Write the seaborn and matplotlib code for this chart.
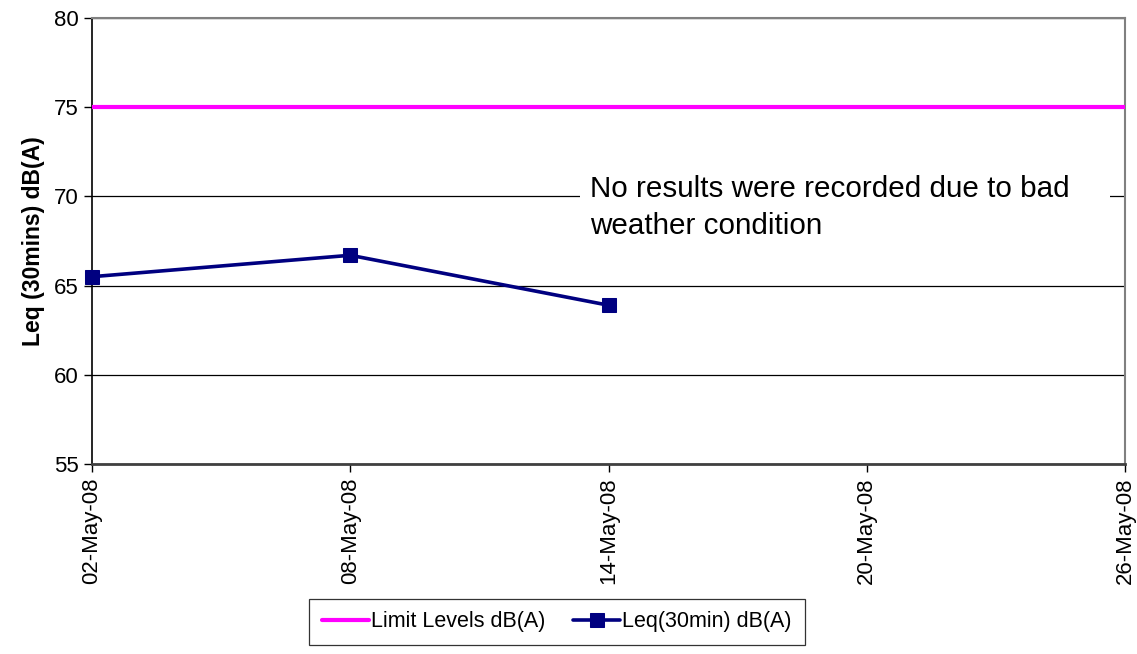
import pandas as pd
import matplotlib
matplotlib.use("Agg")
import matplotlib.pyplot as plt
import matplotlib.dates as mdates
from matplotlib.patches import Rectangle
import seaborn as sns

# data
dates = ["2008-05-02", "2008-05-08", "2008-05-14"]
leq_values = [65.5, 66.7, 63.9]
limit_dates = ["2008-05-02", "2008-05-26"]
limit_values = [75, 75]
tick_dates = ["2008-05-02", "2008-05-08", "2008-05-14", "2008-05-20", "2008-05-26"]

leq = pd.DataFrame({"date": pd.to_datetime(dates), "value": leq_values})
limit = pd.DataFrame({"date": pd.to_datetime(limit_dates), "value": limit_values})

sns.set_style("white")
plt.rcParams["font.family"] = ["Liberation Sans", "DejaVu Sans"]
plt.rcParams["text.color"] = "black"
plt.rcParams["axes.labelcolor"] = "black"
plt.rcParams["xtick.color"] = "black"
plt.rcParams["ytick.color"] = "black"

fig, ax = plt.subplots(figsize=(11.37, 6.54), dpi=100)
fig.subplots_adjust(left=0.081, right=0.9894, top=0.9725, bottom=0.2905)

sns.lineplot(data=limit, x="date", y="value", ax=ax, color="#FF00FF", linewidth=3,
             label="Limit Levels dB(A)", zorder=4)
sns.lineplot(data=leq, x="date", y="value", ax=ax, color="#000080", linewidth=2.6,
             marker="s", markersize=10, markeredgecolor="#000080",
             label="Leq(30min) dB(A)", clip_on=False, zorder=5)

ax.set_ylim(55, 80)
ax.set_yticks([55, 60, 65, 70, 75, 80])
ax.set_xlim(pd.Timestamp("2008-05-02"), pd.Timestamp("2008-05-26"))
ax.set_xticks(pd.to_datetime(tick_dates))
ax.xaxis.set_major_formatter(mdates.DateFormatter("%d-%b-%y"))
plt.setp(ax.get_xticklabels(), rotation=90)

ax.grid(axis="y", color="black", linewidth=0.9)
ax.set_axisbelow(True)
ax.tick_params(axis="both", labelsize=16, direction="out", length=6, width=1,
               left=True, bottom=True, color="black")
ax.set_xlabel("")
ax.set_ylabel("Leq (30mins) dB(A)", fontsize=16.5, fontweight="bold", labelpad=6.5)

for s in ["top", "right"]:
    ax.spines[s].set_color("#808080")
    ax.spines[s].set_linewidth(1.5)
ax.spines["left"].set_color("black")
ax.spines["left"].set_linewidth(1.2)
ax.spines["bottom"].set_color("#404040")
ax.spines["bottom"].set_linewidth(2)

# note box over the grid line
ax.add_patch(Rectangle((0.4724, 0.47), 0.513, 0.195, transform=ax.transAxes,
                       facecolor="white", edgecolor="none", zorder=3))
ax.text(0.482, 0.649, "No results were recorded due to bad\nweather condition",
        transform=ax.transAxes, fontsize=21.3, va="top", ha="left",
        linespacing=1.42, zorder=6)

leg = ax.legend(loc="center", bbox_to_anchor=(0.4899, 0.049),
                bbox_transform=fig.transFigure, ncol=2, fontsize=15.5,
                frameon=True, fancybox=False, edgecolor="black",
                handlelength=2.15, handletextpad=0.12, columnspacing=1.3,
                borderpad=0.6)
leg.get_frame().set_linewidth(0.9)

fig.savefig("out.png", dpi=100)
